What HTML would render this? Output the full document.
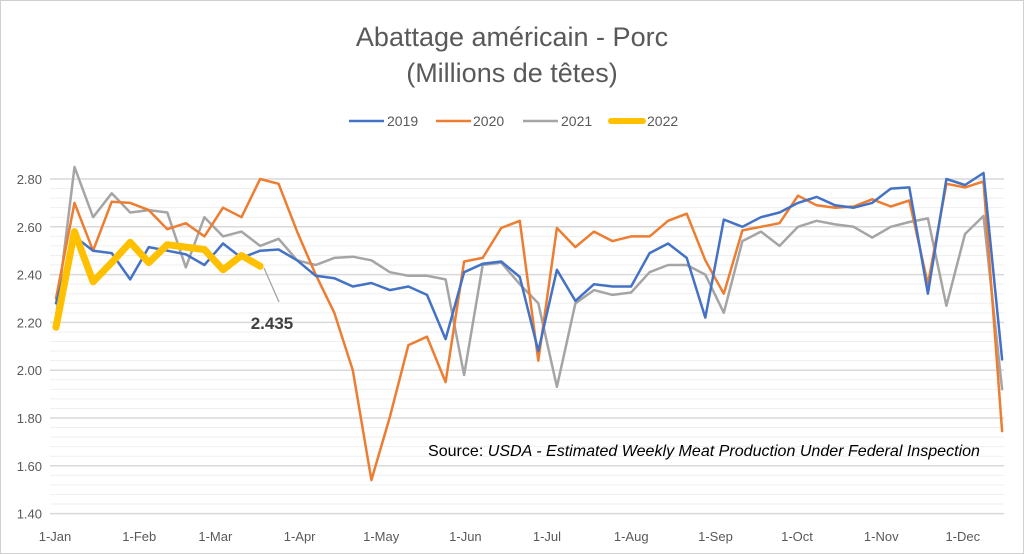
<!DOCTYPE html>
<html><head><meta charset="utf-8"><style>
html,body{margin:0;padding:0;background:#fff;}
svg{display:block;font-family:"Liberation Sans",sans-serif;}
</style></head><body>
<svg id="chart" width="1024" height="554" viewBox="0 0 1024 554">
<rect x="0.5" y="0.5" width="1023" height="553" fill="#fff" stroke="#d0d0d0"/>
<text x="512" y="46" text-anchor="middle" font-size="27" fill="#595959">Abattage américain - Porc</text>
<text x="512" y="82" text-anchor="middle" font-size="27" fill="#595959">(Millions de têtes)</text>
<g id="grid"></g>
<g id="yaxis"></g>
<g id="xaxis"></g>
<g id="series"></g>
<g>
 <g><line x1="349" y1="121" x2="384" y2="121" stroke="#4472C4" stroke-width="2.5"/><text x="387" y="126" font-size="14" fill="#595959">2019</text></g>
 <g><line x1="436" y1="121" x2="471" y2="121" stroke="#ED7D31" stroke-width="2.5"/><text x="473" y="126" font-size="14" fill="#595959">2020</text></g>
 <g><line x1="523" y1="121" x2="558" y2="121" stroke="#A5A5A5" stroke-width="2.5"/><text x="561" y="126" font-size="14" fill="#595959">2021</text></g>
 <g><line x1="611" y1="121" x2="643" y2="121" stroke="#FFC000" stroke-width="6" stroke-linecap="round"/><text x="647" y="126" font-size="14" fill="#595959">2022</text></g>
</g>
<line x1="264" y1="268" x2="279" y2="302" stroke="#A5A5A5" stroke-width="1.3"/>
<text id="lastlbl" x="272" y="329" text-anchor="middle" font-size="17" font-weight="bold" fill="#404040">2.435</text>
<text x="428" y="456" font-size="16" fill="#000" textLength="552" lengthAdjust="spacingAndGlyphs">Source: <tspan font-style="italic">USDA - Estimated Weekly Meat Production Under Federal Inspection</tspan></text>
</svg>
<script>
const yTicks=[1.40,1.60,1.80,2.00,2.20,2.40,2.60,2.80];
const xLabels=["1-Jan","1-Feb","1-Mar","1-Apr","1-May","1-Jun","1-Jul","1-Aug","1-Sep","1-Oct","1-Nov","1-Dec"];
const xLabelDays=[0,31,59,90,120,151,181,212,243,273,304,334];
const s2019=[2.28,2.56,2.50,2.49,2.38,2.515,2.50,2.485,2.44,2.53,2.47,2.50,2.505,2.46,2.395,2.385,2.35,2.365,2.335,2.35,2.315,2.13,2.41,2.445,2.455,2.39,2.08,2.42,2.29,2.36,2.35,2.35,2.49,2.53,2.47,2.22,2.63,2.60,2.64,2.66,2.70,2.725,2.69,2.68,2.70,2.76,2.765,2.32,2.80,2.775,2.825,2.045];
const s2020=[2.30,2.70,2.50,2.705,2.70,2.67,2.59,2.615,2.56,2.68,2.64,2.80,2.78,2.58,2.40,2.24,2.00,1.54,1.805,2.105,2.14,1.95,2.455,2.47,2.595,2.625,2.04,2.595,2.515,2.58,2.54,2.56,2.56,2.625,2.655,2.46,2.32,2.585,2.60,2.615,2.73,2.69,2.68,2.685,2.715,2.685,2.71,2.36,2.78,2.765,2.79,1.745];
const s2021=[2.22,2.85,2.64,2.74,2.66,2.67,2.66,2.43,2.64,2.56,2.58,2.52,2.55,2.46,2.44,2.47,2.475,2.46,2.41,2.395,2.395,2.38,1.98,2.44,2.45,2.36,2.28,1.93,2.28,2.335,2.315,2.325,2.41,2.44,2.44,2.40,2.24,2.54,2.58,2.52,2.60,2.625,2.61,2.60,2.555,2.60,2.62,2.635,2.27,2.57,2.645,1.92];
const s2022=[2.18,2.58,2.37,2.45,2.535,2.45,2.525,2.515,2.505,2.42,2.48,2.435];
const NS="http://www.w3.org/2000/svg";
const X0=56,STEP=18.55,DAYPX=2.718;
const yScale=v=>179+(2.8-v)*239;
const xIdx=i=>X0+STEP*i;
const xDay=d=>55+DAYPX*d;
function mk(tag,attrs,parent){const e=document.createElementNS(NS,tag);for(const k in attrs)e.setAttribute(k,attrs[k]);parent.appendChild(e);return e;}
const grid=document.getElementById('grid');
for(let k=0;k<=35;k++){const v=1.40+k*0.04;const y=yScale(v);const major=(k%5===0);
 const l=mk('line',{x1:50,x2:1004,y1:y,y2:y,stroke:major?'#d9d9d9':'#efefef','stroke-width':major?1.5:1},grid);
 
 }
const ya=document.getElementById('yaxis');
yTicks.forEach(v=>{const t=mk('text',{x:42,y:yScale(v)+5,'text-anchor':'end','font-size':13,fill:'#595959'},ya);t.textContent=v.toFixed(2);
 
 });
const xa=document.getElementById('xaxis');
xLabels.forEach((s,i)=>{const t=mk('text',{x:xDay(xLabelDays[i]),y:541,'text-anchor':'middle','font-size':13,fill:'#595959'},xa);t.textContent=s;
 
 });
const sg=document.getElementById('series');
function draw(arr,color,w,name){const pts=arr.map((v,i)=>xIdx(i).toFixed(1)+','+yScale(v).toFixed(1)).join(' ');
 const p=mk('polyline',{points:pts,fill:'none',stroke:color,'stroke-width':w,'stroke-linejoin':'round','stroke-linecap':'round'},sg);
 
 }
draw(s2021,'#A5A5A5',2.5,'line-2021');
draw(s2020,'#ED7D31',2.5,'line-2020');
draw(s2019,'#4472C4',2.5,'line-2019');
draw(s2022,'#FFC000',7,'line-2022');
document.getElementById('lastlbl').textContent=s2022[s2022.length-1].toFixed(3);
</script>
</body></html>
